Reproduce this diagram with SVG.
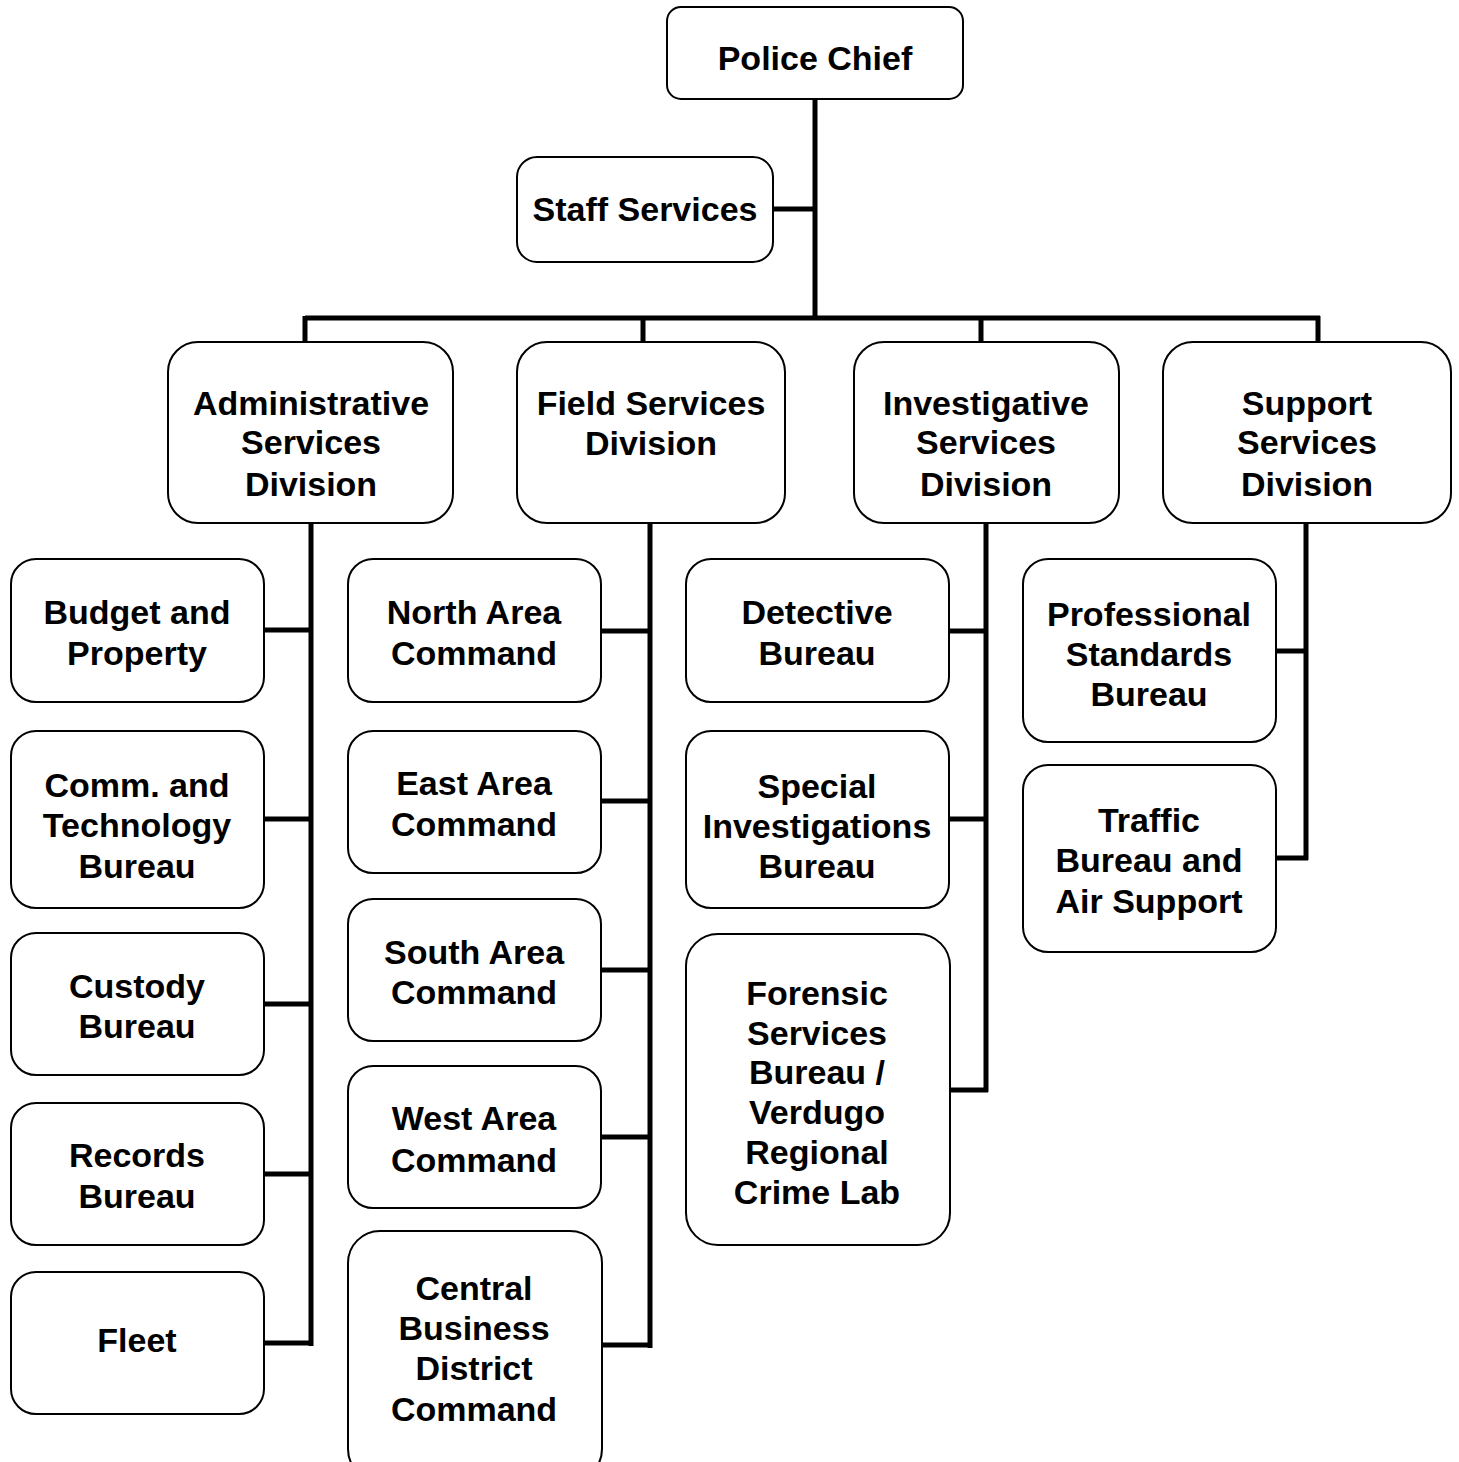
<svg xmlns="http://www.w3.org/2000/svg" width="1459" height="1462" viewBox="0 0 1459 1462">
<style>
.box{fill:#fff;stroke:#000;stroke-width:2}
.t{font-family:"Liberation Sans",Arial,Helvetica,sans-serif;font-weight:bold;font-size:34px;fill:#000;text-anchor:middle}
.c{fill:none;stroke:#000;stroke-width:5;stroke-linejoin:miter;stroke-linecap:butt}
</style>
<rect width="1459" height="1462" fill="#fff"/>
<g id="connectors">
<path class="c" d="M815 100V318M773 209H815M305 318H1320M305 316V342M643 318V342M981 318V342M1318 316V342"/>
<path class="c" d="M311 523V1346M264 630H311M264 819H311M264 1004H311M264 1174H311M264 1343H313"/>
<path class="c" d="M650 523V1348M601 631H650M601 801H650M601 970H650M601 1137H650M601 1345H652"/>
<path class="c" d="M986 523V1092M949 631H986M949 819H986M949 1090H988"/>
<path class="c" d="M1306 523V860M1276 651H1306M1276 858H1308"/>
</g>
<g id="police-chief"><rect class="box" x="667" y="7" width="296" height="92" rx="14"/><text class="t" x="815" y="70">Police Chief</text></g>
<g id="staff-services"><rect class="box" x="517" y="157" width="256" height="105" rx="20"/><text class="t" x="645" y="221">Staff Services</text></g>
<g id="admin-division"><rect class="box" x="168" y="342" width="285" height="181" rx="30"/><text class="t" x="311" y="415">Administrative</text><text class="t" x="311" y="454">Services</text><text class="t" x="311" y="496">Division</text></g>
<g id="field-division"><rect class="box" x="517" y="342" width="268" height="181" rx="30"/><text class="t" x="651" y="415">Field Services</text><text class="t" x="651" y="455">Division</text></g>
<g id="investigative-division"><rect class="box" x="854" y="342" width="265" height="181" rx="30"/><text class="t" x="986" y="415">Investigative</text><text class="t" x="986" y="454">Services</text><text class="t" x="986" y="496">Division</text></g>
<g id="support-division"><rect class="box" x="1163" y="342" width="288" height="181" rx="30"/><text class="t" x="1307" y="415">Support</text><text class="t" x="1307" y="454">Services</text><text class="t" x="1307" y="496">Division</text></g>
<g id="budget"><rect class="box" x="11" y="559" width="253" height="143" rx="25"/><text class="t" x="137" y="624">Budget and</text><text class="t" x="137" y="665">Property</text></g>
<g id="comm-tech"><rect class="box" x="11" y="731" width="253" height="177" rx="25"/><text class="t" x="137" y="797">Comm. and</text><text class="t" x="137" y="837">Technology</text><text class="t" x="137" y="878">Bureau</text></g>
<g id="custody"><rect class="box" x="11" y="933" width="253" height="142" rx="25"/><text class="t" x="137" y="998">Custody</text><text class="t" x="137" y="1038">Bureau</text></g>
<g id="records"><rect class="box" x="11" y="1103" width="253" height="142" rx="25"/><text class="t" x="137" y="1167">Records</text><text class="t" x="137" y="1208">Bureau</text></g>
<g id="fleet"><rect class="box" x="11" y="1272" width="253" height="142" rx="25"/><text class="t" x="137" y="1352">Fleet</text></g>
<g id="north"><rect class="box" x="348" y="559" width="253" height="143" rx="25"/><text class="t" x="474" y="624">North Area</text><text class="t" x="474" y="665">Command</text></g>
<g id="east"><rect class="box" x="348" y="731" width="253" height="142" rx="25"/><text class="t" x="474" y="795">East Area</text><text class="t" x="474" y="836">Command</text></g>
<g id="south"><rect class="box" x="348" y="899" width="253" height="142" rx="25"/><text class="t" x="474" y="964">South Area</text><text class="t" x="474" y="1004">Command</text></g>
<g id="west"><rect class="box" x="348" y="1066" width="253" height="142" rx="25"/><text class="t" x="474" y="1130">West Area</text><text class="t" x="474" y="1172">Command</text></g>
<g id="central"><rect class="box" x="348" y="1231" width="254" height="250" rx="32"/><text class="t" x="474" y="1300">Central</text><text class="t" x="474" y="1340">Business</text><text class="t" x="474" y="1380">District</text><text class="t" x="474" y="1421">Command</text></g>
<g id="detective"><rect class="box" x="686" y="559" width="263" height="143" rx="25"/><text class="t" x="817" y="624">Detective</text><text class="t" x="817" y="665">Bureau</text></g>
<g id="special"><rect class="box" x="686" y="731" width="263" height="177" rx="25"/><text class="t" x="817" y="798">Special</text><text class="t" x="817" y="838">Investigations</text><text class="t" x="817" y="878">Bureau</text></g>
<g id="forensic"><rect class="box" x="686" y="934" width="264" height="311" rx="32"/><text class="t" x="817" y="1005">Forensic</text><text class="t" x="817" y="1045">Services</text><text class="t" x="817" y="1084">Bureau /</text><text class="t" x="817" y="1124">Verdugo</text><text class="t" x="817" y="1164">Regional</text><text class="t" x="817" y="1204">Crime Lab</text></g>
<g id="professional"><rect class="box" x="1023" y="559" width="253" height="183" rx="25"/><text class="t" x="1149" y="626">Professional</text><text class="t" x="1149" y="666">Standards</text><text class="t" x="1149" y="706">Bureau</text></g>
<g id="traffic"><rect class="box" x="1023" y="765" width="253" height="187" rx="25"/><text class="t" x="1149" y="832">Traffic</text><text class="t" x="1149" y="872">Bureau and</text><text class="t" x="1149" y="913">Air Support</text></g>
</svg>
